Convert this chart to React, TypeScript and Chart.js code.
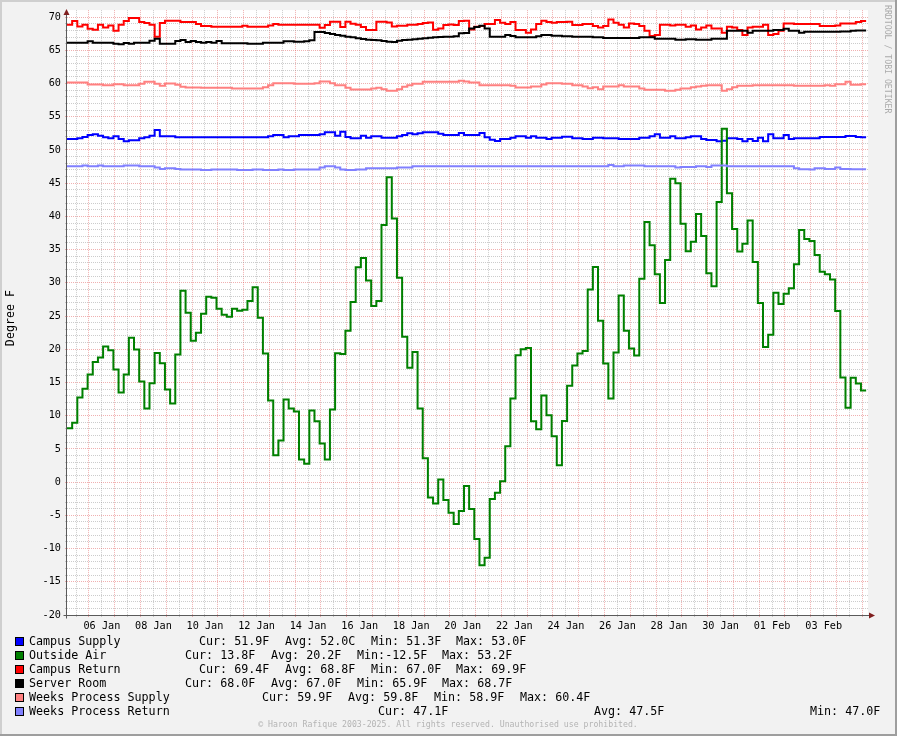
import React, { useEffect, useRef } from "react";
import { Chart, registerables } from "chart.js";

Chart.register(...registerables);

// ---------- data ----------
// time axis: days relative to 06 Jan 00:00, one sample every 0.2 day (4.8 h)
const START_DAY = -0.853;
const STEP_DAY = 0.2;

const X_TICK_LABELS = [
  "06 Jan", "08 Jan", "10 Jan", "12 Jan", "14 Jan", "16 Jan", "18 Jan", "20 Jan",
  "22 Jan", "24 Jan", "26 Jan", "28 Jan", "30 Jan", "01 Feb", "03 Feb",
];

const SERIES_NAMES = [
  "Campus Supply",
  "Outside Air",
  "Campus Return",
  "Server Room",
  "Weeks Process Supply",
  "Weeks Process Return",
];

const SERIES_COLORS = ["#0000FF", "#008000", "#FF0000", "#000000", "#FF8080", "#8080FF"];

const campusSupply = [
  51.65, 51.65, 51.75, 51.95, 52.25, 52.35, 52.15, 51.9, 51.75, 52.05,
  51.65, 51.3, 51.45, 51.45, 51.75, 51.9, 52.15, 53.0, 52.05, 52.05,
  52.05, 51.9, 51.9, 51.9, 51.9, 51.9, 51.9, 51.9, 51.9, 51.9,
  51.9, 51.9, 51.9, 51.9, 51.9, 51.9, 51.9, 51.9, 51.9, 52.05,
  52.25, 52.25, 51.9, 52.05, 52.05, 52.25, 52.25, 52.25, 52.25, 52.35,
  52.65, 52.65, 52.15, 52.75, 51.95, 51.75, 51.75, 52.15, 51.85, 52.05,
  52.05, 51.85, 51.85, 51.85, 52.05, 52.25, 52.5, 52.35, 52.5, 52.65,
  52.65, 52.65, 52.45, 52.25, 52.25, 52.25, 52.55, 52.25, 52.25, 52.25,
  52.55, 51.9, 51.55, 51.35, 51.65, 51.65, 51.85, 52.05, 52.05, 51.85,
  52.05, 51.85, 51.85, 51.65, 51.85, 51.85, 52.0, 52.0, 51.75, 51.75,
  51.65, 51.65, 51.85, 51.85, 51.75, 51.75, 51.75, 51.65, 51.65, 51.65,
  51.65, 51.85, 51.85, 52.05, 52.35, 51.85, 51.85, 52.05, 51.75, 51.75,
  51.9, 52.05, 52.05, 51.65, 51.5, 51.5, 51.3, 51.4, 51.75, 51.75,
  51.65, 51.3, 51.65, 51.35, 51.85, 51.3, 52.35, 51.75, 51.75, 52.25,
  51.65, 51.75, 51.75, 51.75, 51.75, 51.75, 51.95, 51.95, 51.95, 51.95,
  51.95, 52.1, 52.1, 51.95, 51.9,
];

const outsideAir = [
  8.1, 8.95, 12.75, 14.05, 16.2, 18.1, 18.75, 20.4, 19.85, 16.95,
  13.5, 16.2, 21.75, 19.95, 15.15, 11.1, 14.9, 19.45, 17.9, 13.95,
  11.85, 19.2, 28.8, 25.5, 21.3, 22.5, 25.35, 27.9, 27.75, 26.1,
  25.2, 24.9, 26.1, 25.8, 25.95, 27.25, 29.35, 24.75, 19.35, 12.3,
  4.05, 6.25, 12.45, 11.1, 10.65, 3.4, 2.75, 10.8, 9.15, 5.8,
  3.4, 10.95, 19.4, 19.3, 22.8, 27.1, 32.35, 33.75, 30.35, 26.5,
  27.25, 38.7, 45.9, 39.7, 30.75, 21.9, 17.2, 19.6, 11.1, 3.6,
  -2.3, -3.2, 0.4, -2.7, -4.6, -6.3, -4.35, -0.6, -4.05, -8.55,
  -12.5, -11.4, -2.55, -1.6, 0.15, 5.4, 12.6, 19.1, 20.0, 20.2,
  9.15, 7.95, 13.05, 10.05, 6.9, 2.55, 9.2, 14.5, 17.55, 19.35,
  19.75, 29.0, 32.4, 24.3, 17.85, 12.6, 19.5, 28.1, 22.8, 20.1,
  19.05, 30.6, 39.15, 35.65, 31.3, 26.95, 33.45, 45.65, 45.0, 38.9,
  34.75, 36.2, 40.35, 37.05, 31.45, 29.5, 42.15, 53.2, 43.5, 38.1,
  34.7, 35.9, 39.4, 33.15, 26.95, 20.35, 22.2, 28.5, 26.8, 28.35,
  29.2, 32.8, 37.95, 36.6, 36.3, 34.2, 31.65, 31.3, 30.5, 25.75,
  15.75, 11.2, 15.7, 14.85, 13.8,
];

const campusReturn = [
  68.85, 69.4, 68.6, 68.85, 68.25, 68.1, 68.85, 68.45, 68.75, 67.95,
  68.85, 69.4, 69.85, 69.85, 69.25, 69.1, 68.85, 67.05, 69.1, 69.45,
  69.45, 69.45, 69.25, 69.25, 69.25, 68.95, 68.65, 68.65, 68.55, 68.55,
  68.55, 68.55, 68.55, 68.55, 68.7, 68.55, 68.55, 68.55, 68.55, 68.75,
  68.95, 68.85, 68.85, 68.85, 68.85, 68.85, 68.85, 68.85, 68.85, 68.4,
  68.8, 69.3, 69.3, 68.5, 69.3, 69.0, 68.85, 68.5, 68.05, 68.05,
  69.3, 69.3, 69.2, 68.6, 68.7, 68.7, 68.85, 68.85, 68.95, 69.1,
  69.2, 68.1, 68.3, 68.8, 68.9, 68.8, 69.4, 69.45, 68.15, 68.55,
  68.65, 68.95, 68.95, 69.55, 69.15, 68.95, 69.25, 68.05, 68.05, 67.65,
  68.15, 68.95, 69.45, 69.25, 69.15, 69.25, 69.25, 69.3, 68.8, 68.8,
  68.95, 68.95, 68.65, 68.45, 68.65, 69.65, 69.15, 68.85, 68.45, 69.05,
  68.95, 68.65, 67.95, 67.15, 67.3, 68.85, 68.85, 68.75, 68.85, 68.85,
  68.55, 68.75, 68.15, 68.45, 68.75, 68.3, 68.3, 67.65, 68.55, 68.45,
  68.05, 67.3, 68.45, 68.55, 68.55, 68.85, 67.3, 67.45, 67.95, 69.05,
  69.05, 68.95, 68.95, 68.95, 68.95, 68.95, 68.65, 68.65, 68.65, 68.75,
  69.05, 69.05, 69.05, 69.25, 69.4,
];

const serverRoom = [
  66.15, 66.15, 66.15, 66.15, 66.35, 66.15, 66.15, 66.15, 66.15, 66.0,
  65.9, 66.1, 66.0, 66.15, 66.15, 66.15, 66.45, 66.75, 66.0, 66.0,
  66.0, 66.4, 66.55, 66.25, 66.4, 66.25, 66.15, 66.25, 66.15, 66.4,
  66.05, 66.05, 66.05, 66.05, 66.05, 66.0, 66.0, 66.0, 66.15, 66.15,
  66.15, 66.15, 66.35, 66.35, 66.3, 66.3, 66.35, 66.5, 67.75, 67.75,
  67.6, 67.45, 67.3, 67.2, 67.05, 66.95, 66.8, 66.7, 66.6, 66.55,
  66.5, 66.4, 66.3, 66.25, 66.45, 66.55, 66.6, 66.65, 66.75, 66.8,
  66.9, 66.95, 67.0, 67.05, 67.05, 67.1, 67.55, 67.6, 68.3, 68.5,
  68.7, 68.3, 67.05, 67.05, 67.05, 67.3, 67.15, 66.95, 66.95, 66.95,
  66.95, 67.1, 67.3, 67.3, 67.2, 67.2, 67.1, 67.1, 67.05, 67.05,
  67.05, 67.05, 66.95, 66.95, 66.85, 66.85, 66.85, 66.85, 66.85, 66.85,
  66.85, 66.95, 66.95, 66.95, 66.75, 66.75, 66.75, 66.75, 66.6, 66.6,
  66.65, 66.65, 66.6, 66.6, 66.6, 66.75, 66.75, 66.75, 67.95, 67.95,
  67.95, 67.95, 67.65, 67.95, 67.95, 67.95, 67.95, 68.05, 68.05, 68.25,
  67.95, 67.95, 67.65, 67.8, 67.8, 67.8, 67.8, 67.8, 67.8, 67.8,
  67.85, 67.85, 67.95, 68.0, 68.0,
];

const weeksProcessSupply = [
  60.15, 60.15, 60.15, 60.15, 59.85, 59.85, 59.85, 59.75, 59.75, 59.9,
  59.9, 59.75, 59.75, 59.75, 59.95, 60.25, 60.25, 59.95, 59.65, 60.0,
  60.0, 59.8, 59.5, 59.4, 59.4, 59.4, 59.35, 59.35, 59.35, 59.35,
  59.35, 59.35, 59.25, 59.25, 59.25, 59.25, 59.25, 59.25, 59.45, 59.75,
  60.05, 60.05, 60.05, 60.05, 59.95, 59.95, 59.95, 59.95, 60.05, 60.3,
  60.3, 60.05, 59.75, 59.75, 59.35, 59.1, 59.1, 59.1, 59.1, 59.25,
  59.35, 59.15, 58.9, 58.9, 59.15, 59.5, 59.75, 59.95, 59.95, 60.25,
  60.25, 60.25, 60.25, 60.25, 60.25, 60.25, 60.4, 60.3, 60.15, 60.15,
  59.75, 59.75, 59.75, 59.75, 59.75, 59.75, 59.65, 59.4, 59.4, 59.4,
  59.55, 59.55, 59.85, 60.05, 60.05, 60.05, 59.95, 59.95, 59.75, 59.75,
  59.55, 59.3, 59.45, 59.15, 59.55, 59.55, 59.55, 59.75, 59.55, 59.55,
  59.55, 59.25, 59.05, 59.05, 59.05, 59.05, 58.9, 58.9, 59.05, 59.25,
  59.25, 59.45, 59.55, 59.65, 59.75, 59.75, 59.75, 58.9, 59.15, 59.45,
  59.65, 59.65, 59.65, 59.75, 59.75, 59.75, 59.75, 59.75, 59.75, 59.75,
  59.75, 59.65, 59.65, 59.65, 59.65, 59.65, 59.65, 59.75, 59.65, 59.9,
  59.9, 60.25, 59.8, 59.8, 59.9,
];

const weeksProcessReturn = [
  47.55, 47.55, 47.55, 47.65, 47.55, 47.55, 47.65, 47.55, 47.55, 47.55,
  47.55, 47.65, 47.65, 47.65, 47.55, 47.55, 47.55, 47.35, 47.15, 47.25,
  47.25, 47.15, 47.05, 47.05, 47.05, 47.05, 47.0, 47.0, 47.05, 47.05,
  47.05, 47.05, 47.05, 47.0, 47.0, 47.0, 47.05, 47.05, 47.0, 47.0,
  47.0, 47.05, 47.0, 47.0, 47.05, 47.05, 47.05, 47.05, 47.05, 47.35,
  47.55, 47.55, 47.35, 47.05, 47.0, 47.0, 47.05, 47.05, 47.25, 47.25,
  47.25, 47.25, 47.25, 47.25, 47.35, 47.35, 47.35, 47.55, 47.55, 47.55,
  47.55, 47.55, 47.55, 47.55, 47.55, 47.55, 47.55, 47.55, 47.55, 47.55,
  47.55, 47.55, 47.55, 47.55, 47.55, 47.55, 47.55, 47.55, 47.55, 47.55,
  47.55, 47.55, 47.55, 47.55, 47.55, 47.55, 47.55, 47.55, 47.55, 47.55,
  47.55, 47.55, 47.55, 47.55, 47.55, 47.75, 47.55, 47.55, 47.65, 47.65,
  47.65, 47.65, 47.55, 47.55, 47.55, 47.55, 47.55, 47.55, 47.35, 47.45,
  47.45, 47.45, 47.55, 47.55, 47.45, 47.65, 47.65, 47.65, 47.55, 47.55,
  47.55, 47.55, 47.55, 47.55, 47.55, 47.55, 47.55, 47.55, 47.55, 47.55,
  47.55, 47.25, 47.1, 47.1, 47.05, 47.25, 47.25, 47.15, 47.15, 47.35,
  47.15, 47.15, 47.1, 47.1, 47.1,
];

const SERIES_VALUES = [
  campusSupply,
  outsideAir,
  campusReturn,
  serverRoom,
  weeksProcessSupply,
  weeksProcessReturn,
];

const LEGEND_STATS = [
  ["Cur: 51.9F", "Avg: 52.0C", "Min: 51.3F", "Max: 53.0F"],
  ["Cur: 13.8F", "Avg: 20.2F", "Min:-12.5F", "Max: 53.2F"],
  ["Cur: 69.4F", "Avg: 68.8F", "Min: 67.0F", "Max: 69.9F"],
  ["Cur: 68.0F", "Avg: 67.0F", "Min: 65.9F", "Max: 68.7F"],
  ["Cur: 59.9F", "Avg: 59.8F", "Min: 58.9F", "Max: 60.4F"],
  ["Cur: 47.1F", "Avg: 47.5F", "Min: 47.0F"],
];

const Y_TITLE = "Degree F";
const WATERMARK = "RRDTOOL / TOBI OETIKER";
const COPYRIGHT = "\u00A9 Haroon Rafique 2003-2025. All rights reserved. Unauthorised use prohibited.";

// ---------- layout / style ----------
const W = 897;
const H = 736;
const PLOT_LEFT = 67;
const PLOT_RIGHT = 868;
const PLOT_TOP = 8;
const PLOT_BOTTOM = 615;
const X_MIN = START_DAY;
const X_MAX = 30.22;
const Y_MIN = -20;
const Y_MAX = 71.05;

const MONO = '"DejaVu Sans Mono", monospace';
const MINOR_GRID = "rgba(143,143,143,0.45)";
const MAJOR_GRID = "rgba(222,79,79,0.45)";
const ARROW = "#801F1F";
const AXIS = "#5a5a5a";

const LEGEND_ROW_Y = [641.5, 655.5, 669.5, 683.5, 697.5, 711.5];
const LEGEND_STAT_X = [
  [200, 286, 372, 457],
  [186, 272, 358, 443],
  [200, 286, 372, 457],
  [186, 272, 358, 443],
  [263, 349, 435, 521],
  [379, 595, 811],
];

function makePoints(vals: number[]) {
  const pts = vals.map((v, i) => ({ x: START_DAY + i * STEP_DAY, y: v }));
  pts.push({ x: START_DAY + vals.length * STEP_DAY, y: vals[vals.length - 1] });
  return pts;
}

const decorPlugin = {
  id: "rrdDecor",
  beforeDraw(chart: any) {
    const { ctx, chartArea } = chart;
    ctx.save();
    ctx.fillStyle = "#F2F2F2";
    ctx.fillRect(0, 0, W, H);
    ctx.fillStyle = "#CFCFCF";
    ctx.fillRect(0, 0, W, 2);
    ctx.fillRect(0, 0, 2, H);
    ctx.fillStyle = "#9E9E9E";
    ctx.fillRect(0, H - 2, W, 2);
    ctx.fillRect(W - 2, 0, 2, H);
    ctx.fillStyle = "#FFFFFF";
    ctx.fillRect(
      chartArea.left,
      chartArea.top,
      chartArea.right - chartArea.left,
      chartArea.bottom - chartArea.top
    );
    ctx.restore();
  },
  afterDraw(chart: any) {
    const { ctx, chartArea } = chart;
    ctx.save();
    // axes
    const ax = chartArea.left - 0.5;
    const ay = chartArea.bottom + 0.5;
    ctx.strokeStyle = AXIS;
    ctx.lineWidth = 1;
    ctx.beginPath();
    ctx.moveTo(ax, ay + 3);
    ctx.lineTo(ax, chartArea.top + 4);
    ctx.moveTo(ax - 3, ay);
    ctx.lineTo(chartArea.right + 2, ay);
    ctx.stroke();
    // arrows
    ctx.fillStyle = ARROW;
    ctx.beginPath();
    ctx.moveTo(ax, chartArea.top - 1);
    ctx.lineTo(ax - 3, chartArea.top + 5);
    ctx.lineTo(ax + 3, chartArea.top + 5);
    ctx.closePath();
    ctx.fill();
    ctx.beginPath();
    ctx.moveTo(chartArea.right + 7, ay);
    ctx.lineTo(chartArea.right + 1, ay - 3);
    ctx.lineTo(chartArea.right + 1, ay + 3);
    ctx.closePath();
    ctx.fill();

    // y title
    ctx.fillStyle = "#000";
    ctx.font = `11.7px ${MONO}`;
    ctx.textBaseline = "middle";
    ctx.textAlign = "center";
    ctx.save();
    ctx.translate(11, 318);
    ctx.rotate(-Math.PI / 2);
    ctx.fillText(Y_TITLE, 0, 0);
    ctx.restore();

    // watermark
    ctx.save();
    ctx.fillStyle = "#ABABAB";
    ctx.font = `8.2px ${MONO}`;
    ctx.textAlign = "left";
    ctx.translate(887.5, 5);
    ctx.rotate(Math.PI / 2);
    ctx.fillText(WATERMARK, 0, 0);
    ctx.restore();

    // legend
    ctx.textAlign = "left";
    ctx.font = `11.7px ${MONO}`;
    SERIES_NAMES.forEach((name, i) => {
      const y = LEGEND_ROW_Y[i];
      ctx.fillStyle = SERIES_COLORS[i];
      ctx.fillRect(15, Math.round(y) - 5, 9, 9);
      ctx.strokeStyle = "#000";
      ctx.lineWidth = 1;
      ctx.strokeRect(15.5, Math.round(y) - 4.5, 8, 8);
      ctx.fillStyle = "#000";
      ctx.fillText(name, 29, y);
      LEGEND_STATS[i].forEach((s, j) => {
        ctx.fillText(s, LEGEND_STAT_X[i][j] - 1, y);
      });
    });

    // copyright
    ctx.fillStyle = "#B4B4B4";
    ctx.font = `8.2px ${MONO}`;
    ctx.textAlign = "center";
    ctx.fillText(COPYRIGHT, 448, 725);
    ctx.restore();
  },
};

export default function App() {
  const ref = useRef<HTMLCanvasElement>(null);
  useEffect(() => {
    const canvas = ref.current;
    if (!canvas) return;
    const chart = new Chart(canvas, {
      type: "line",
      data: {
        datasets: SERIES_VALUES.map((vals, i) => ({
          label: SERIES_NAMES[i],
          data: makePoints(vals),
          borderColor: SERIES_COLORS[i],
          backgroundColor: SERIES_COLORS[i],
          borderWidth: 2,
          pointRadius: 0,
          stepped: "before" as const,
          fill: false,
          tension: 0,
          borderJoinStyle: "miter" as const,
          borderCapStyle: "butt" as const,
          order: SERIES_VALUES.length - i,
        })),
      },
      options: {
        responsive: false,
        animation: false,
        events: [],
        parsing: false as any,
        normalized: true,
        layout: { padding: { top: PLOT_TOP, right: W - PLOT_RIGHT, left: 0, bottom: 0 } },
        plugins: {
          legend: { display: false },
          tooltip: { enabled: false },
          title: { display: false },
        },
        scales: {
          x: {
            type: "linear",
            min: X_MIN,
            max: X_MAX,
            afterBuildTicks: (scale: any) => {
              const t: { value: number }[] = [];
              for (let k = -1; k <= 61; k++) {
                const v = k * 0.5;
                if (v >= X_MIN && v <= X_MAX) t.push({ value: v });
              }
              scale.ticks = t;
            },
            afterFit: (scale: any) => {
              scale.height = H - PLOT_BOTTOM;
            },
            grid: {
              color: (c: any) => (c.tick && Number.isInteger(c.tick.value) ? MAJOR_GRID : MINOR_GRID),
              tickColor: (c: any) => (c.tick && Number.isInteger(c.tick.value) ? MAJOR_GRID : MINOR_GRID),
              lineWidth: 1,
              tickLength: 2,
            },
            border: { display: false, dash: [1, 1] },
            ticks: {
              autoSkip: false,
              maxRotation: 0,
              minRotation: 0,
              padding: 3,
              color: "#000",
              font: { family: MONO, size: 10.2 },
              callback: (v: any) => {
                const idx = (Number(v) - 0.5) / 2;
                return Number.isInteger(idx) && idx >= 0 && idx < X_TICK_LABELS.length
                  ? X_TICK_LABELS[idx]
                  : "";
              },
            },
          },
          y: {
            type: "linear",
            min: Y_MIN,
            max: Y_MAX,
            afterBuildTicks: (scale: any) => {
              const t: { value: number }[] = [];
              for (let v = Y_MIN; v <= 70; v++) t.push({ value: v });
              scale.ticks = t;
            },
            afterFit: (scale: any) => {
              scale.width = PLOT_LEFT;
            },
            grid: {
              color: (c: any) => (c.tick && c.tick.value % 5 === 0 ? MAJOR_GRID : MINOR_GRID),
              tickColor: (c: any) => (c.tick && c.tick.value % 5 === 0 ? MAJOR_GRID : MINOR_GRID),
              lineWidth: 1,
              tickLength: 2,
            },
            border: { display: false, dash: [1, 1] },
            ticks: {
              autoSkip: false,
              padding: 4,
              color: "#000",
              font: { family: MONO, size: 10.2 },
              callback: (v: any) => (Number(v) % 5 === 0 ? String(v) : ""),
            },
          },
        },
      },
      plugins: [decorPlugin],
    } as any);
    return () => chart.destroy();
  }, []);

  return (
    <div style={{ position: "fixed", left: 0, top: 0, width: W, height: H }}>
      <canvas ref={ref} width={W} height={H} style={{ display: "block", width: W, height: H }} />
    </div>
  );
}
